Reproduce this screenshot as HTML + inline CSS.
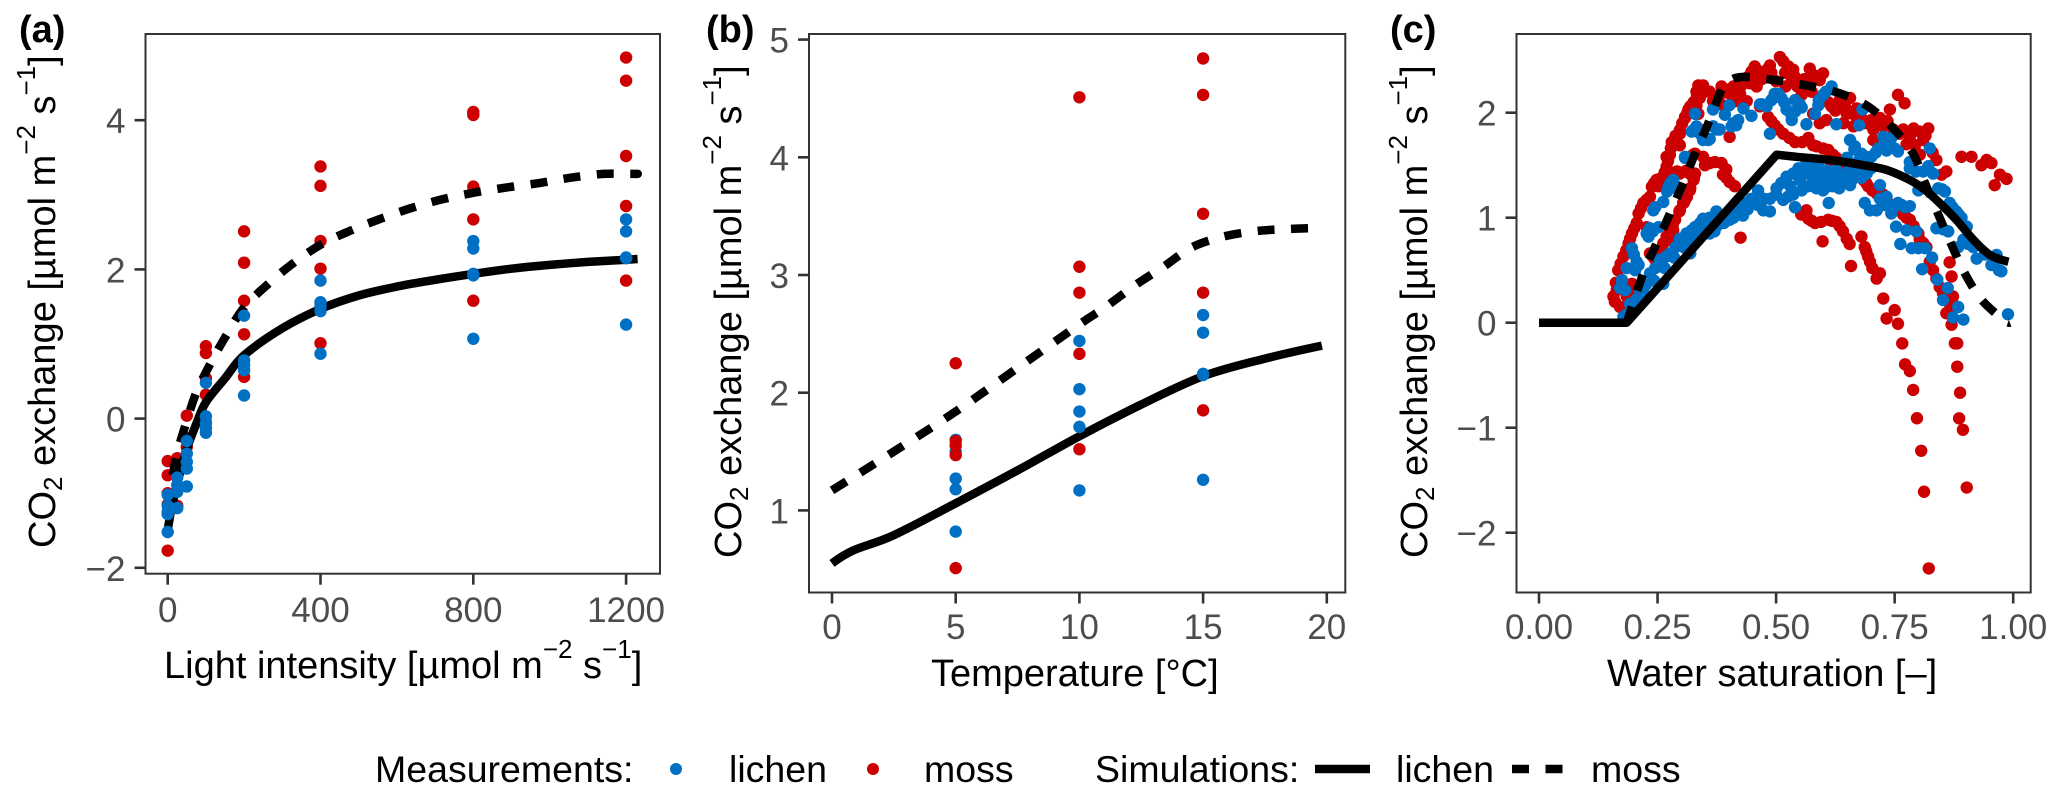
<!DOCTYPE html>
<html lang="en">
<head>
<meta charset="utf-8">
<title>CO2 exchange of lichen and moss</title>
<style>
  html, body { margin: 0; padding: 0; background: #fff; }
  svg { display: block; font-family: "Liberation Sans", Arial, sans-serif; }
  .tick-label { font-size: 35px; fill: #4d4d4d; }
  .axis-title { font-size: 38px; fill: #000; }
  .legend-text { font-size: 37.5px; fill: #000; }
  .panel-tag { font-size: 38px; font-weight: bold; fill: #000; }
</style>
</head>
<body>
<svg id="chart" xmlns="http://www.w3.org/2000/svg" width="2067" height="801" viewBox="0 0 2067 801">
  <rect x="0" y="0" width="2067" height="801" fill="#ffffff"/>
  <g id="panel-a"></g>
  <g id="panel-b"></g>
  <g id="panel-c"></g>

  <text class="panel-tag" x="19" y="42">(a)</text>
  <text class="panel-tag" x="706" y="42">(b)</text>
  <text class="panel-tag" x="1390" y="42">(c)</text>

  <text class="axis-title" transform="translate(55,548) rotate(-90)">CO<tspan font-size="26" dy="7">2</tspan><tspan dy="-7"> exchange [µmol m</tspan><tspan font-size="26" dy="-20">−2</tspan><tspan dy="20"> s</tspan><tspan font-size="26" dy="-20">−1</tspan><tspan dy="20">]</tspan></text>
  <text class="axis-title" transform="translate(741,558) rotate(-90)">CO<tspan font-size="26" dy="7">2</tspan><tspan dy="-7"> exchange [µmol m</tspan><tspan font-size="26" dy="-20">−2</tspan><tspan dy="20"> s</tspan><tspan font-size="26" dy="-20">−1</tspan><tspan dy="20">]</tspan></text>
  <text class="axis-title" transform="translate(1427,558) rotate(-90)">CO<tspan font-size="26" dy="7">2</tspan><tspan dy="-7"> exchange [µmol m</tspan><tspan font-size="26" dy="-20">−2</tspan><tspan dy="20"> s</tspan><tspan font-size="26" dy="-20">−1</tspan><tspan dy="20">]</tspan></text>

  <text class="axis-title" x="164" y="678">Light intensity [µmol m<tspan font-size="26" dy="-20">−2</tspan><tspan dy="20"> s</tspan><tspan font-size="26" dy="-20">−1</tspan><tspan dy="20">]</tspan></text>
  <text class="axis-title" x="931" y="686">Temperature [°C]</text>
  <text class="axis-title" x="1607" y="686">Water saturation [–]</text>

  <g>
    <text class="legend-text" x="375" y="782">Measurements:</text>
    <circle cx="676" cy="769" r="6" fill="#0070c4"/>
    <text class="legend-text" x="729" y="782">lichen</text>
    <circle cx="873" cy="769" r="6" fill="#cc0000"/>
    <text class="legend-text" x="924" y="782">moss</text>
    <text class="legend-text" x="1095" y="782">Simulations:</text>
    <line x1="1315" y1="769" x2="1370" y2="769" stroke="#000" stroke-width="8.5"/>
    <text class="legend-text" x="1396" y="782">lichen</text>
    <line x1="1512" y1="769" x2="1563" y2="769" stroke="#000" stroke-width="8.5" stroke-dasharray="17 16.5"/>
    <text class="legend-text" x="1591" y="782">moss</text>
  </g>
</svg>

<script>
// ---------- Panel (a): light response ----------
const aTicksX = [0, 400, 800, 1200];
const aTicksY = [-2, 0, 2, 4];
const aMossLight = [0,0,0,0,0, 25,25,25, 50,50,50, 100,100,100,100,100, 200,200,200,200,200, 400,400,400,400,400, 800,800,800,800,800, 1200,1200,1200,1200,1200];
const aMossFlux = [-0.57,-0.76,-1.0,-1.15,-1.77, -0.53,-0.69,-1.17, 0.04,-0.26,-0.38, 0.97,0.88,0.54,0.32,-0.05, 2.51,2.09,1.58,1.13,0.56, 3.38,3.12,2.38,2.01,1.01, 4.11,4.07,3.11,2.67,1.58, 4.84,4.53,3.52,2.85,1.85];
const aLichenLight = [0,0,0,0,0, 25,25,25,25, 50,50,50,50,50, 100,100,100,100,100, 200,200,200,200,200, 400,400,400,400,400, 800,800,800,800,800, 1200,1200,1200,1200,1200];
const aLichenFlux = [-1.02,-1.17,-1.25,-1.28,-1.52, -0.79,-0.89,-0.98,-1.2, -0.3,-0.47,-0.58,-0.67,-0.91, 0.48,0.03,-0.06,-0.13,-0.19, 1.38,0.78,0.72,0.65,0.31, 1.85,1.56,1.51,1.44,0.87, 2.38,2.28,1.94,1.92,1.07, 2.67,2.51,2.16,2.15,1.26];
const aSimLight = [0,10,25,50,75,100,150,200,300,400,500,600,700,800,900,1000,1100,1200,1230];
const aSimLichen = [-1.5,-1.2,-0.87,-0.41,-0.07,0.22,0.54,0.85,1.21,1.47,1.65,1.77,1.86,1.94,2.01,2.06,2.1,2.13,2.14];
const aSimMossLight = [0,10,25,50,75,112,154,200,262,328,400,474,553,636,719,803,890,975,1057,1140,1219,1230];
const aSimMoss = [-1.2,-0.85,-0.46,-0.03,0.35,0.74,1.12,1.49,1.8,2.08,2.33,2.51,2.67,2.82,2.94,3.03,3.1,3.16,3.23,3.28,3.28,3.28];

// ---------- Panel (b): temperature response ----------
const bTicksX = [0, 5, 10, 15, 20];
const bTicksY = [1, 2, 3, 4, 5];
const bMossTemp = [5,5,5,5,5, 10,10,10,10,10, 15,15,15,15,15];
const bMossFlux = [2.25,1.59,1.55,1.47,0.51, 4.51,3.07,2.85,2.33,1.52, 4.84,4.53,3.52,2.85,1.85];
const bLichenTemp = [5,5,5,5,5, 10,10,10,10,10, 15,15,15,15,15];
const bLichenFlux = [1.6,1.5,1.27,1.18,0.82, 2.44,2.03,1.84,1.71,1.17, 2.66,2.51,2.16,2.15,1.26];
const bSimLichenTemp = [0,0.86,2.5,5,7.5,10,12.5,15,17.5,19.8];
const bSimLichen = [0.55,0.66,0.79,1.06,1.34,1.63,1.9,2.14,2.29,2.4];
const bSimMossTemp = [0,2.5,5,7.5,10,11,12.3,13.4,14.5,15.7,17,18.3,19.8];
const bSimMoss = [1.17,1.5,1.84,2.21,2.58,2.72,2.92,3.07,3.23,3.32,3.37,3.39,3.4];

// ---------- Panel (c): water saturation response ----------
const cTicksX = [0, 0.25, 0.5, 0.75, 1];
const cTicksY = [-2, -1, 0, 1, 2];
const cMossSat = [.508,.515,.526,.536,.540,.533,.519,.487,.481,.455,.448,.466,.462,.459,.441,.427,.410,.385,.346,.350,.339,.332,.315,.308,.381,.402,.424,.438,.413,.388,.367,.571,.578,.599,.592,.568,.554,.617,.634,.656,.670,.649,.642,.663,.680,.701,.719,.705,.726,.740,.757,.771,.747,.768,.782,.803,.821,.810,.793,.803,.838,.859,.849,.606,.592,.578,
  .466,.483,.497,.515,.540,.568,.578,.599,.610,.627,.613,
  .684,.694,.712,.726,.736,.754,.768,.782,.800,.803,.817,.824,.831,.845,.873,.880,.859,.870,
  .891,.912,.933,.944,.954,.972,.986,.961,
  .350,.371,.385,.388,.402,.413,.540,.564,.568,.582,.610,.627,.641,.649,.680,.687,.694,.703,.719,.712,.726,.750,.733,.757,
  .425,.598,.658,
  .297,.297,.325,.346,.308,.297,.318,.318,.304,.297,.402,.339,.329,.866,.870,.705,.318,.336,
  .766,.772,.782,.789,.797,.806,.812,.822,.877,.882,.882,.888,.886,.894,.902,
  .157,.164,.167,.178,.189,.196,.206,.210,.220,.234,.238,.248,.262,.269,.276,.280,.297,.308,.319,.333,.336,
  .171,.185,.196,.234,.245,.262,.276,.287,.305,.312,.326,.329,.312,.291,.269,.269,.252,.227,.283,.276,.280,
  .16,.162,.172,.184,.192,.201,.215,.227,.243,.255,.265,.272,.278,.288,.302,.313,.326,.332,.343,.36,
  .19,.24,.254,.269,.282,.296,.308,.319,.327,
  .395,.42,.445,.47,.49,.50,.52,.545,.56,.585,.575,.61,.625,.645,.665,.69,.713,.735,.76,.79,.815,.83,.775,
  .49,.505,.528,.555,.585,.62,.64,.66,.672,.69,.703,.72,.745,.76,.775,.79,.81,.838,.852,.866,
  .553,.575,.595,.618,.634,.655,.69,.698,.395,.395,.36];
const cMossFlux = [2.53,2.49,2.44,2.41,2.34,2.30,2.38,2.45,2.41,2.44,2.39,2.39,2.33,2.25,2.34,2.26,2.25,2.25,2.26,2.20,2.14,2.07,2.03,1.95,2.17,2.18,2.18,2.11,2.11,2.07,2.11,2.42,2.34,2.375,2.31,2.26,2.17,2.06,2.12,2.14,2.04,1.99,1.90,1.87,1.95,1.93,1.95,1.84,1.87,2.03,2.17,2.09,1.84,1.84,1.77,1.82,1.85,1.74,1.69,1.60,1.55,1.44,1.41,1.93,1.90,1.99,
  2.06,1.96,1.88,1.80,1.72,1.76,1.69,1.66,1.645,1.57,1.55,
  1.36,1.30,1.23,1.22,1.14,1.11,1.03,.98,.85,.79,.72,.58,.50,.34,.25,.15,.09,-.02,
  1.58,1.58,1.50,1.55,1.52,1.41,1.37,1.31,
  1.50,1.53,1.52,1.41,1.34,1.30,1.10,1.07,.99,.95,.98,.96,.87,.80,.82,.72,.63,.52,.47,.42,.23,.12,.04,-.01,
  .81,.775,.54,
  1.80,1.69,1.60,1.58,1.44,1.42,1.42,1.26,1.14,1.07,1.77,1.84,1.61,.575,.44,1.74,2.0,1.99,
  -.197,-.397,-.46,-.64,-.91,-1.22,-1.61,-2.34,-.197,-.197,-.419,-.667,-.911,-1.02,-1.57,
  .25,.31,.50,.63,.755,.85,.95,1.04,1.14,1.20,1.295,1.36,1.37,1.485,1.60,1.72,1.835,1.96,2.06,2.15,2.26,
  .15,.25,.37,.66,.60,.755,.88,.98,1.14,1.20,1.36,1.42,1.45,1.44,1.42,1.58,1.30,.91,.88,.79,.91,
  .2,.38,.56,.69,.80,.90,1.09,1.17,1.33,1.37,1.43,1.54,1.66,1.78,1.9,2.0,2.1,2.2,2.2,2.2,
  .3,.63,.68,.82,.93,1.06,1.17,1.28,1.39,
  2.22,2.22,2.28,2.32,2.38,2.3,2.25,2.25,2.32,2.35,2.2,2.1,2.02,2.06,1.98,1.9,1.88,1.92,1.8,1.85,1.78,1.62,1.7,
  1.92,1.84,1.76,1.72,1.68,1.6,1.5,1.44,1.4,1.33,1.26,1.22,1.12,1.07,1.0,.92,.76,.42,.28,.18,
  1.03,.97,.96,.97,.92,.75,.68,.58,1.38,1.46,1.52];
const cLichenSat = [.329,.322,.332,.346,.357,.367,.367,.381,.392,.401,.406,.420,.416,.431,.448,.466,.480,.497,.511,.522,.540,.554,.533,.540,.582,.589,.599,.617,.564,.487,.627,.675,.682,.308,
  .656,.666,.680,.701,.715,.726,.743,.733,.757,.782,.824,.782,.821,.810,.831,.842,.856,.866,.880,.891,.902,.898,.916,.923,.965,.954,.975,.989,
  .297,.311,.332,.346,.360,.374,.374,.388,.402,.413,.427,.438,.448,.462,.462,.473,.487,.487,.501,.511,.522,.536,.547,.540,.515,.536,.554,.568,.582,.564,.578,.592,.606,.582,.599,.599,.620,.633,.627,.648,.656,.666,.691,.677,.649,.611,
  .719,.687,.698,.712,.719,.733,.736,.743,.757,.772,.782,.753,.775,.796,.762,.786,.800,.814,.829,.808,.840,.862,.852,.884,.873,.895,.838,.852,.863,.800,.895,.884,
  .178,.192,.213,.234,.255,.276,.298,.312,.329,.262,.319,
  .171,.175,.185,.196,.206,.203,.227,.234,.252,.241,.262,.273,.283,.294,.308,.326,.329,.182,.231,
  .185,.20,.205,.222,.225,.243,.245,.265,.268,.285,.288,.305,.305,.322,.322,.34,.34,.355,.36,.37,.39,.41,.43,.44,.455,.475,.50,.525,.53,.55,.56,.575,.59,.61,.63,.645,.66,.68,.61,.585,.62,.655,.69,.70,.71,
  .47,.49,.505,.517,.53,.55,.59,.605,.34,.36,.375,.41,.2,.21,.24,.245,.27,.277,
  .665,.675,.69,.73,.75,.795,.85,.872,.885,.73,.748,.765,.905,.94,.96,.97];
const cLichenFlux = [1.99,1.82,1.87,1.74,1.74,2.03,1.87,1.84,1.98,2.07,1.87,1.93,1.88,2.04,1.97,2.08,2.06,2.18,2.14,2.03,2.12,2.05,1.93,2.01,1.99,2.07,2.17,2.25,1.89,1.80,1.89,1.88,2.03,1.57,
  1.74,1.68,1.61,1.58,1.66,1.77,1.76,1.64,1.63,1.53,1.66,1.47,1.49,1.44,1.42,1.28,1.25,1.14,1.06,1.00,.915,.79,.72,.61,.645,.55,.49,.08,
  .80,.85,.915,.99,.85,.915,1.06,1.01,.98,1.04,1.09,1.14,1.18,1.26,1.12,1.07,1.06,1.18,1.28,1.33,1.39,1.42,1.47,1.10,1.17,1.22,1.26,1.30,1.34,1.52,1.49,1.47,1.45,1.42,1.375,1.26,1.36,1.28,1.455,1.42,1.31,1.39,1.42,1.47,1.57,1.14,
  1.31,1.14,1.07,1.07,1.18,1.20,1.12,1.04,1.14,1.10,1.11,.915,.88,.87,.75,.71,.71,.71,.62,.51,.41,.33,.216,.15,.05,.03,.90,.89,.87,1.26,.79,.72,
  .055,.18,.31,.47,.60,.66,.755,.85,.91,.37,.66,
  .33,.406,.52,.71,.58,.50,.85,.90,.91,1.07,1.15,1.29,1.36,1.26,1.58,1.835,1.99,.31,.82,
  .08,.14,.22,.27,.36,.40,.52,.52,.63,.62,.72,.72,.80,.78,.88,.85,.95,.93,1.0,.87,.95,1.0,1.02,1.08,1.15,1.18,1.22,1.2,1.30,1.36,1.42,1.40,1.40,1.38,1.38,1.36,1.36,1.38,1.30,1.28,1.30,1.46,1.55,1.47,1.62,
  2.08,2.12,2.18,2.1,2.0,2.08,2.12,2.2,1.8,1.75,1.84,1.9,.65,.55,.87,1.1,1.25,1.33,
  1.65,1.55,1.58,1.7,1.66,1.44,1.27,1.1,1.03,1.12,1.1,1.12,.75,.65,.58,.5];
const cSimLichenSat = [0,.185,.501,.543,.613,.684,.733,.775,.810,.845,.880,.916,.951,.990];
const cSimLichen = [0,0,1.6,1.58,1.55,1.5,1.455,1.375,1.28,1.14,.98,.79,.645,.58];
const cSimMossSat = [.185,.220,.248,.276,.304,.329,.357,.381,.395,.427,.497,.564,.631,.694,.747,.789,.814,.842,.870,.898,.933,.979,.993];
const cSimMoss = [.0,.47,.755,1.04,1.33,1.61,1.9,2.18,2.28,2.34,2.31,2.26,2.19,2.06,1.85,1.61,1.33,1.03,.74,.47,.22,.03,0];

// ---------- Axis functions ----------
const SVG_NS = 'http://www.w3.org/2000/svg';
const MOSS_COLOR = '#cc0000';
const LICHEN_COLOR = '#0070c4';
const AXIS_COLOR = '#333333';

const xA = v => 167.7 + v * 0.382;
const yA = v => 418.6 - v * 74.6;
const xB = v => 832 + v * 24.74;
const yB = v => 510.4 - (v - 1) * 117.7;
const xC = v => 1539 + v * 474.2;
const yC = v => 322.7 - v * 105;

function drawPoints(parent, xs, ys, xScale, yScale, color, name) {
  const group = document.createElementNS(SVG_NS, 'g');
  
  
  xs.forEach((x, i) => {
    const dot = document.createElementNS(SVG_NS, 'circle');
    
    
    dot.setAttribute('cx', xScale(x));
    dot.setAttribute('cy', yScale(ys[i]));
    dot.setAttribute('r', 6.2);
    dot.setAttribute('fill', color);
    group.appendChild(dot);
  });
  parent.appendChild(group);
}

// Smooth path through the data points; kinks lists indices that stay sharp corners.
function drawLine(parent, xs, ys, xScale, yScale, dashed, name, kinks) {
  const sharp = kinks || [];
  const pts = xs.map((x, i) => [xScale(x), yScale(ys[i])]);
  let d = 'M' + pts[0][0].toFixed(1) + ' ' + pts[0][1].toFixed(1);
  for (let i = 0; i < pts.length - 1; i++) {
    const p1 = pts[i];
    const p2 = pts[i + 1];
    const p0 = pts[i - 1] || p1;
    const p3 = pts[i + 2] || p2;
    const straightStart = i === 0 || sharp.includes(i);
    const straightEnd = i === pts.length - 2 || sharp.includes(i + 1);
    const c1 = straightStart ? p1 : [p1[0] + (p2[0] - p0[0]) / 6, p1[1] + (p2[1] - p0[1]) / 6];
    const c2 = straightEnd ? p2 : [p2[0] - (p3[0] - p1[0]) / 6, p2[1] - (p3[1] - p1[1]) / 6];
    d += ' C' + c1[0].toFixed(1) + ' ' + c1[1].toFixed(1) + ' ' + c2[0].toFixed(1) + ' ' + c2[1].toFixed(1) + ' ' + p2[0].toFixed(1) + ' ' + p2[1].toFixed(1);
  }
  const line = document.createElementNS(SVG_NS, 'path');
  
  
  line.setAttribute('d', d);
  line.setAttribute('fill', 'none');
  line.setAttribute('stroke', '#000');
  line.setAttribute('stroke-width', 8.5);
  line.setAttribute('stroke-linejoin', 'round');
  if (dashed) line.setAttribute('stroke-dasharray', '17 16.5');
  parent.appendChild(line);
}

function drawFrame(parent, box, xTicks, yTicks, xScale, yScale, xFormat, labelY, prefix) {
  const frame = document.createElementNS(SVG_NS, 'rect');
  
  
  frame.setAttribute('x', box.left);
  frame.setAttribute('y', box.top);
  frame.setAttribute('width', box.right - box.left);
  frame.setAttribute('height', box.bottom - box.top);
  frame.setAttribute('fill', 'none');
  frame.setAttribute('stroke', AXIS_COLOR);
  frame.setAttribute('stroke-width', 2);
  parent.appendChild(frame);

  xTicks.forEach(t => {
    const tick = document.createElementNS(SVG_NS, 'line');
    
    
    tick.setAttribute('x1', xScale(t));
    tick.setAttribute('x2', xScale(t));
    tick.setAttribute('y1', box.bottom);
    tick.setAttribute('y2', box.bottom + 11);
    tick.setAttribute('stroke', AXIS_COLOR);
    tick.setAttribute('stroke-width', 2.6);
    parent.appendChild(tick);

    const label = document.createElementNS(SVG_NS, 'text');
    
    
    label.setAttribute('class', 'tick-label');
    label.setAttribute('x', xScale(t));
    label.setAttribute('y', labelY);
    label.setAttribute('text-anchor', 'middle');
    label.textContent = xFormat(t);
    parent.appendChild(label);
  });

  yTicks.forEach(t => {
    const tick = document.createElementNS(SVG_NS, 'line');
    
    
    tick.setAttribute('x1', box.left - 11);
    tick.setAttribute('x2', box.left);
    tick.setAttribute('y1', yScale(t));
    tick.setAttribute('y2', yScale(t));
    tick.setAttribute('stroke', AXIS_COLOR);
    tick.setAttribute('stroke-width', 2.6);
    parent.appendChild(tick);

    const label = document.createElementNS(SVG_NS, 'text');
    
    
    label.setAttribute('class', 'tick-label');
    label.setAttribute('x', box.left - 20);
    label.setAttribute('y', yScale(t) + 13);
    label.setAttribute('text-anchor', 'end');
    label.textContent = String(t).replace('-', '\u2212');
    parent.appendChild(label);
  });
}

// ---------- Render ----------
const panelA = document.getElementById('panel-a');
drawPoints(panelA, aMossLight, aMossFlux, xA, yA, MOSS_COLOR, 'panel-a-moss');
drawLine(panelA, aSimMossLight, aSimMoss, xA, yA, true, 'panel-a-moss-simulation-line');
drawLine(panelA, aSimLight, aSimLichen, xA, yA, false, 'panel-a-lichen-simulation-line');
drawPoints(panelA, aLichenLight, aLichenFlux, xA, yA, LICHEN_COLOR, 'panel-a-lichen');
drawFrame(panelA, {left: 145.5, right: 660, top: 34, bottom: 573.7}, aTicksX, aTicksY, xA, yA, v => String(v), 622, 'panel-a');

const panelB = document.getElementById('panel-b');
drawLine(panelB, bSimLichenTemp, bSimLichen, xB, yB, false, 'panel-b-lichen-simulation-line');
drawLine(panelB, bSimMossTemp, bSimMoss, xB, yB, true, 'panel-b-moss-simulation-line');
drawPoints(panelB, bLichenTemp, bLichenFlux, xB, yB, LICHEN_COLOR, 'panel-b-lichen');
drawPoints(panelB, bMossTemp, bMossFlux, xB, yB, MOSS_COLOR, 'panel-b-moss');
drawFrame(panelB, {left: 809, right: 1345.3, top: 34, bottom: 592.5}, bTicksX, bTicksY, xB, yB, v => String(v), 639, 'panel-b');

const panelC = document.getElementById('panel-c');
drawPoints(panelC, cMossSat, cMossFlux, xC, yC, MOSS_COLOR, 'panel-c-moss');
drawPoints(panelC, cLichenSat, cLichenFlux, xC, yC, LICHEN_COLOR, 'panel-c-lichen');
drawLine(panelC, cSimLichenSat, cSimLichen, xC, yC, false, 'panel-c-lichen-simulation-line', [1, 2]);
drawLine(panelC, cSimMossSat, cSimMoss, xC, yC, true, 'panel-c-moss-simulation-line');
drawFrame(panelC, {left: 1516.5, right: 2030.7, top: 34, bottom: 592.5}, cTicksX, cTicksY, xC, yC, v => v.toFixed(2), 639, 'panel-c');
</script>
</body>
</html>
